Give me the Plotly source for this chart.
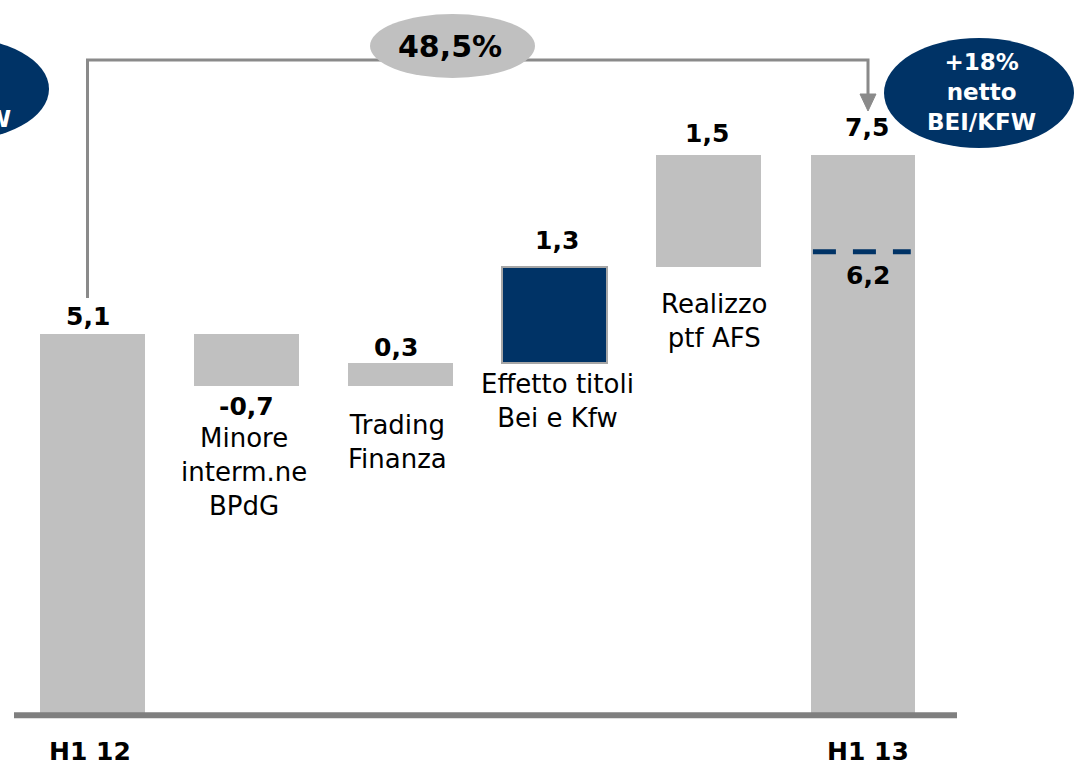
import plotly.graph_objects as go

# ---- data ----
categories = ["H1 12", "Minore interm.ne BPdG", "Trading Finanza",
              "Effetto titoli Bei e Kfw", "Realizzo ptf AFS", "H1 13"]
cat_labels = ["H1 12", "Minore<br>interm.ne<br>BPdG", "Trading<br>Finanza",
              "Effetto titoli<br>Bei e Kfw", "Realizzo<br>ptf AFS", "H1 13"]
values = [5.1, -0.7, 0.3, 1.3, 1.5, 7.5]
measure = ["total", "relative", "relative", "relative", "relative", "total"]
value_labels = ["5,1", "-0,7", "0,3", "1,3", "1,5", "7,5"]
net_value = 6.2
net_label = "6,2"
growth_label = "48,5%"
bubble_right = "+18%<br>netto<br>BEI/KFW"

GRAY = "#c0c0c0"
NAVY = "#003366"
LINE = "#8a8a8a"
FONT = "DejaVu Sans"

# waterfall bases
bases, tops = [], []
level = 0.0
for v, m in zip(values, measure):
    if m == "total":
        bases.append(0.0)
        level = v
        tops.append(v)
    else:
        lo, hi = (level, level + v) if v >= 0 else (level + v, level)
        bases.append(lo)
        tops.append(hi)
        level += v
heights = [t - b for t, b in zip(tops, bases)]
colors = [GRAY, GRAY, GRAY, NAVY, GRAY, GRAY]
line_cols = ["rgba(0,0,0,0)"] * 3 + ["#a6a6a6"] + ["rgba(0,0,0,0)"] * 2
xs = list(range(len(categories)))

W, H = 1076, 765
def px(x):
    return x / W
def py(y):
    return 1 - y / H

fig = go.Figure()
fig.add_trace(go.Bar(
    x=xs, y=heights, base=bases, width=0.681,
    marker=dict(color=colors, line=dict(color=line_cols, width=2)),
    hoverinfo="skip", showlegend=False,
))

VAL_SIZE = 25
ann = []
# value labels (bold)
val_shift = [17, -21, 16, 26, 21, 27]
val_xshift = [-5, 0, -5, 2, -2, 4]
for i, (lab, v) in enumerate(zip(value_labels, values)):
    yref_val = tops[i] if v >= 0 else bases[i]
    ann.append(dict(x=xs[i], y=yref_val, xref="x", yref="y", text=lab,
                    showarrow=False, yanchor="middle", yshift=val_shift[i],
                    xshift=val_xshift[i],
                    font=dict(family=FONT, size=VAL_SIZE, color="black", weight="bold")))

# category labels for the intermediate bars
cat_shift = {1: -35, 2: -22, 3: -4, 4: -20}
cat_xshift = {1: -3, 2: -3, 3: 3, 4: 5}
for i, s in cat_shift.items():
    ann.append(dict(x=xs[i], y=bases[i], xref="x", yref="y", text=cat_labels[i],
                    showarrow=False, yanchor="top", yshift=s, xshift=cat_xshift[i],
                    font=dict(family=FONT, size=26, color="black")))
# totals labels below axis
for i, xsft in ((0, -3), (5, 5)):
    ann.append(dict(x=xs[i], y=0, xref="x", yref="y", text=cat_labels[i],
                    showarrow=False, yanchor="middle", yshift=-39, xshift=xsft,
                    font=dict(family=FONT, size=VAL_SIZE, color="black", weight="bold")))

# net value label
ann.append(dict(x=xs[5], y=net_value, xref="x", yref="y", text=net_label,
                showarrow=False, yanchor="middle", yshift=-24, xshift=5,
                font=dict(family=FONT, size=VAL_SIZE, color="black", weight="bold")))

# bubble texts
ann.append(dict(x=px(450), y=py(46), xref="paper", yref="paper", text=growth_label,
                showarrow=False, xanchor="center", yanchor="middle",
                font=dict(family=FONT, size=30, color="black", weight="bold")))
ann.append(dict(x=px(981), y=py(92), xref="paper", yref="paper", text=bubble_right,
                showarrow=False, xanchor="center", yanchor="middle",
                font=dict(family=FONT, size=23, color="white", weight="bold")))
ann.append(dict(x=px(13), y=py(119), xref="paper", yref="paper", text="BEI/KFW",
                showarrow=False, xanchor="right", yanchor="middle",
                font=dict(family=FONT, size=23, color="white", weight="bold")))

shapes = []
# connector
shapes.append(dict(type="path", xref="paper", yref="paper",
                   path=f"M {px(87.5)} {py(298)} L {px(87.5)} {py(60)} L {px(868)} {py(60)} L {px(868)} {py(95)}",
                   line=dict(color=LINE, width=3)))
shapes.append(dict(type="path", xref="paper", yref="paper",
                   path=f"M {px(860)} {py(94)} L {px(876)} {py(94)} L {px(868)} {py(111)} Z",
                   fillcolor=LINE, line=dict(color=LINE, width=1)))
# ellipses
shapes.append(dict(type="circle", xref="paper", yref="paper",
                   x0=px(370), x1=px(535), y0=py(78), y1=py(14),
                   fillcolor=GRAY, line=dict(width=0)))
shapes.append(dict(type="circle", xref="paper", yref="paper",
                   x0=px(884), x1=px(1074), y0=py(148), y1=py(38),
                   fillcolor=NAVY, line=dict(width=0)))
shapes.append(dict(type="circle", xref="paper", yref="paper",
                   x0=px(-140), x1=px(49), y0=py(141), y1=py(37),
                   fillcolor=NAVY, line=dict(width=0)))
# baseline
shapes.append(dict(type="line", xref="paper", yref="y",
                   x0=px(14), x1=px(957), y0=-0.03, y1=-0.03,
                   line=dict(color="#7f7f7f", width=6)))
# net dashed line
shapes.append(dict(type="line", xref="x", yref="y",
                   x0=xs[5] - 0.325, x1=xs[5] + 0.31, y0=net_value, y1=net_value,
                   line=dict(color=NAVY, width=5, dash="23px,17px")))

fig.update_layout(
    width=W, height=H,
    margin=dict(l=0, r=0, t=0, b=0),
    paper_bgcolor="white", plot_bgcolor="white",
    xaxis=dict(range=[-0.6003, 6.3822], visible=False, fixedrange=True),
    yaxis=dict(range=[-0.699, 9.583], visible=False, fixedrange=True),
    annotations=ann, shapes=shapes,
    bargap=0, showlegend=False,
    font=dict(family=FONT),
)

fig.write_html("out.html",
               post_script="document.body.style.margin='0px';document.body.style.overflow='hidden';",
               config={"displayModeBar": False})
